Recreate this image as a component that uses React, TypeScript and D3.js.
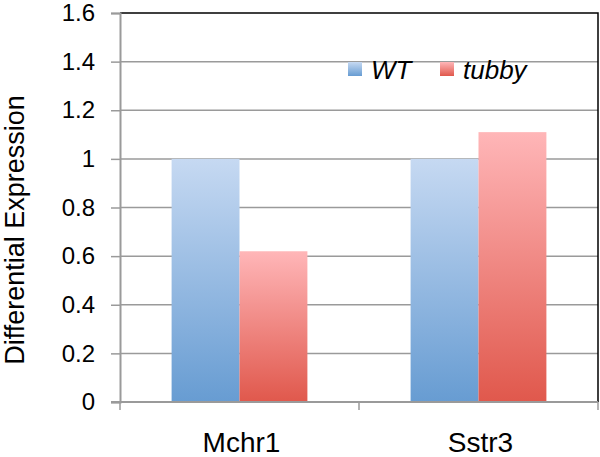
import * as d3 from 'd3';
import React, { useEffect, useRef } from 'react';

const categories = ['Mchr1', 'Sstr3'];
const seriesNames = ['WT', 'tubby'];
const wtValues = [1.0, 1.0];
const tubbyValues = [0.62, 1.11];
const yTicks = [0, 0.2, 0.4, 0.6, 0.8, 1, 1.2, 1.4, 1.6];

const App = () => {
  const svgRef = useRef<SVGSVGElement>(null);

  useEffect(() => {
    const width = 600;
    const height = 457;
    const margin = { top: 13, right: 2, bottom: 55, left: 120 };
    const font = 'Liberation Sans, Arial, Helvetica, sans-serif';

    const svg = d3.select(svgRef.current);
    svg.selectAll('*').remove();
    svg.attr('width', width).attr('height', height);

    // gradients
    const defs = svg.append('defs');
    const grads = [
      { id: 'gWT', top: '#c6d9f2', bottom: '#679cd2' },
      { id: 'gTub', top: '#ffb6b8', bottom: '#e0584c' },
    ];
    grads.forEach(g => {
      const lg = defs.append('linearGradient')
        .attr('id', g.id).attr('x1', 0).attr('y1', 0).attr('x2', 0).attr('y2', 1);
      lg.append('stop').attr('offset', '0%').attr('stop-color', g.top);
      lg.append('stop').attr('offset', '100%').attr('stop-color', g.bottom);
    });

    const x0 = d3.scaleBand()
      .domain(categories)
      .range([margin.left, width - margin.right])
      .paddingInner(0)
      .paddingOuter(0);

    const x1 = d3.scaleBand()
      .domain(seriesNames)
      .range([0, x0.bandwidth()])
      .paddingInner(0)
      .paddingOuter(0.76);

    const y = d3.scaleLinear()
      .domain([0, 1.6])
      .range([height - margin.bottom, margin.top]);

    // gridlines
    svg.append('g')
      .selectAll('line')
      .data(yTicks.slice(1, -1))
      .enter()
      .append('line')
      .attr('x1', margin.left)
      .attr('x2', width - margin.right)
      .attr('y1', d => y(d))
      .attr('y2', d => y(d))
      .attr('stroke', '#9a9a9a')
      .attr('stroke-width', 1.5);

    // top and right frame
    svg.append('path')
      .attr('d', `M${margin.left},${y(1.6)}H${width - margin.right}V${y(0)}`)
      .attr('fill', 'none')
      .attr('stroke', '#000')
      .attr('stroke-width', 1.5);

    // bars
    const data = categories.map((c, i) => ({
      cat: c,
      vals: [
        { key: 'WT', v: wtValues[i], fill: 'url(#gWT)' },
        { key: 'tubby', v: tubbyValues[i], fill: 'url(#gTub)' },
      ],
    }));

    svg.append('g')
      .selectAll('g')
      .data(data)
      .enter()
      .append('g')
      .attr('transform', d => `translate(${x0(d.cat)},0)`)
      .selectAll('rect')
      .data(d => d.vals)
      .enter()
      .append('rect')
      .attr('x', d => x1(d.key)!)
      .attr('width', x1.bandwidth())
      .attr('y', d => y(d.v))
      .attr('height', d => y(0) - y(d.v))
      .attr('fill', d => d.fill);

    // y axis
    const yAxis = svg.append('g')
      .attr('transform', `translate(${margin.left},0)`)
      .call(d3.axisLeft(y).tickValues(yTicks).tickFormat(d3.format('~g')).tickSize(9).tickPadding(16));
    yAxis.select('.domain').attr('stroke', '#9a9a9a').attr('stroke-width', 2);
    yAxis.selectAll('.tick line').attr('stroke', '#9a9a9a').attr('stroke-width', 1.5);
    yAxis.selectAll('.tick text')
      .attr('font-family', font)
      .attr('font-size', 24)
      .attr('fill', '#000');

    // x axis
    const xAxis = svg.append('g')
      .attr('transform', `translate(0,${y(0)})`);
    xAxis.append('line')
      .attr('x1', margin.left - 9)
      .attr('x2', width - margin.right)
      .attr('stroke', '#9a9a9a')
      .attr('stroke-width', 2);
    const tickPos = [margin.left, ...categories.map(c => x0(c)! + x0.bandwidth())];
    xAxis.selectAll('line.tk')
      .data(tickPos)
      .enter()
      .append('line')
      .attr('class', 'tk')
      .attr('x1', d => d)
      .attr('x2', d => d)
      .attr('y1', 0)
      .attr('y2', 8)
      .attr('stroke', '#9a9a9a')
      .attr('stroke-width', 1.5);
    xAxis.selectAll('text')
      .data(categories)
      .enter()
      .append('text')
      .attr('x', d => x0(d)! + x0.bandwidth() / 2 + 2)
      .attr('y', 50)
      .attr('text-anchor', 'middle')
      .attr('font-family', font)
      .attr('font-size', 28)
      .text(d => d);

    // y title
    svg.append('text')
      .attr('transform', `translate(24,230) rotate(-90)`)
      .attr('text-anchor', 'middle')
      .attr('font-family', font)
      .attr('font-size', 27)
      .text('Differential Expression');

    // legend
    const legend = [
      { name: 'WT', fill: 'url(#gWT)', x: 348 },
      { name: 'tubby', fill: 'url(#gTub)', x: 440 },
    ];
    const lg = svg.append('g');
    lg.selectAll('rect')
      .data(legend)
      .enter()
      .append('rect')
      .attr('x', d => d.x)
      .attr('y', 62)
      .attr('width', 14)
      .attr('height', 14)
      .attr('fill', d => d.fill);
    lg.selectAll('text')
      .data(legend)
      .enter()
      .append('text')
      .attr('x', d => d.x + 23)
      .attr('y', 79)
      .attr('font-family', font)
      .attr('font-size', 26)
      .attr('font-style', 'italic')
      .text(d => d.name);
  }, []);

  return <svg ref={svgRef} style={{ position: 'absolute', left: 0, top: 0 }}></svg>;
};

export default App;
